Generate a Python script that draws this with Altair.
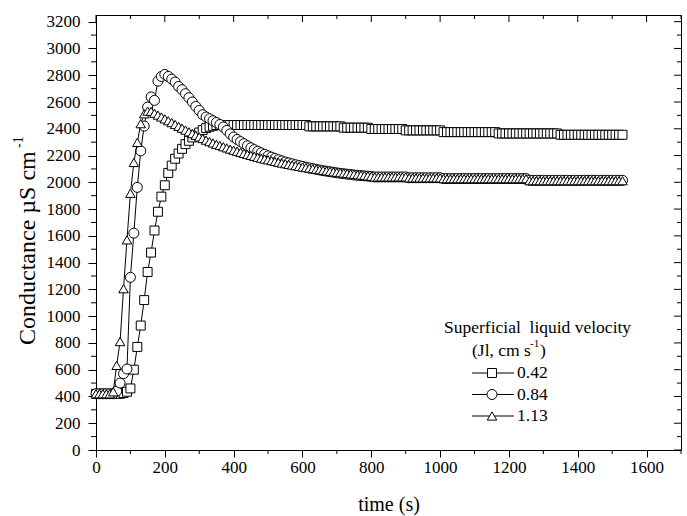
import altair as alt
import pandas as pd

# ---------------- data ----------------
time_s = [0, 10, 20, 30, 40, 50, 60, 70, 80, 90,
          100, 110, 120, 130, 140, 150, 160, 170, 180, 190,
          200, 210, 220, 230, 240, 250, 260, 270, 280, 290,
          300, 310, 320, 330, 340, 350, 360, 370, 380, 390,
          400, 410, 420, 430, 440, 450, 460, 470, 480, 490,
          500, 510, 520, 530, 540, 550, 560, 570, 580, 590,
          600, 610, 620, 630, 640, 650, 660, 670, 680, 690,
          700, 710, 720, 730, 740, 750, 760, 770, 780, 790,
          800, 810, 820, 830, 840, 850, 860, 870, 880, 890,
          900, 910, 920, 930, 940, 950, 960, 970, 980, 990,
          1000, 1010, 1020, 1030, 1040, 1050, 1060, 1070, 1080, 1090,
          1100, 1110, 1120, 1130, 1140, 1150, 1160, 1170, 1180, 1190,
          1200, 1210, 1220, 1230, 1240, 1250, 1260, 1270, 1280, 1290,
          1300, 1310, 1320, 1330, 1340, 1350, 1360, 1370, 1380, 1390,
          1400, 1410, 1420, 1430, 1440, 1450, 1460, 1470, 1480, 1490,
          1500, 1510, 1520, 1530]

cond_042 = [420, 420, 420, 420, 420, 420, 420, 420, 425, 435,
            460, 600, 770, 930, 1120, 1330, 1475, 1640, 1780, 1893,
            1978, 2070, 2125, 2176, 2215, 2250, 2285, 2310, 2335, 2355,
            2372, 2390, 2405, 2415, 2422, 2428, 2428, 2428, 2428, 2428,
            2428, 2428, 2428, 2428, 2428, 2428, 2428, 2428, 2428, 2428,
            2428, 2428, 2428, 2428, 2428, 2428, 2428, 2428, 2428, 2428,
            2428, 2428, 2418, 2418, 2418, 2418, 2418, 2418, 2418, 2418,
            2418, 2418, 2408, 2408, 2408, 2408, 2408, 2408, 2408, 2408,
            2398, 2398, 2398, 2398, 2398, 2398, 2398, 2398, 2398, 2398,
            2388, 2388, 2388, 2388, 2388, 2388, 2388, 2388, 2388, 2388,
            2388, 2375, 2375, 2375, 2375, 2375, 2375, 2375, 2375, 2375,
            2375, 2375, 2375, 2375, 2375, 2375, 2375, 2365, 2365, 2365,
            2365, 2365, 2365, 2365, 2365, 2365, 2365, 2365, 2365, 2365,
            2365, 2365, 2365, 2365, 2365, 2355, 2355, 2355, 2355, 2355,
            2355, 2355, 2355, 2355, 2355, 2355, 2355, 2355, 2355, 2355,
            2355, 2355, 2355, 2355]

cond_084 = [420, 420, 420, 420, 420, 420, 440, 500, 570, 605,
            1290, 1620, 1962, 2235, 2420, 2562, 2638, 2612, 2756, 2791,
            2806, 2791, 2771, 2749, 2716, 2692, 2662, 2632, 2600, 2567,
            2537, 2505, 2488, 2475, 2460, 2447, 2432, 2413, 2388, 2362,
            2338, 2320, 2304, 2289, 2273, 2258, 2244, 2232, 2220, 2209,
            2198, 2188, 2178, 2169, 2160, 2152, 2145, 2138, 2131, 2125,
            2119, 2113, 2107, 2102, 2097, 2092, 2087, 2083, 2079, 2075,
            2071, 2067, 2064, 2061, 2058, 2055, 2052, 2050, 2048, 2046,
            2044, 2040, 2040, 2040, 2040, 2040, 2040, 2040, 2040, 2040,
            2040, 2034, 2034, 2034, 2034, 2034, 2034, 2034, 2034, 2034,
            2034, 2028, 2028, 2028, 2028, 2028, 2028, 2028, 2028, 2028,
            2028, 2028, 2028, 2028, 2028, 2028, 2028, 2028, 2028, 2028,
            2028, 2028, 2028, 2028, 2028, 2028, 2015, 2015, 2015, 2015,
            2015, 2015, 2015, 2015, 2015, 2015, 2015, 2015, 2015, 2015,
            2015, 2015, 2015, 2015, 2015, 2015, 2015, 2015, 2015, 2015,
            2015, 2015, 2015, 2015]

cond_113 = [420, 420, 420, 420, 420, 435, 632, 810, 1205, 1570,
            1918, 2148, 2298, 2438, 2512, 2532, 2530, 2516, 2502, 2488,
            2474, 2460, 2446, 2432, 2418, 2404, 2390, 2377, 2364, 2351,
            2339, 2327, 2315, 2304, 2294, 2284, 2275, 2266, 2257, 2248,
            2240, 2232, 2224, 2216, 2208, 2201, 2194, 2187, 2180, 2174,
            2168, 2162, 2156, 2150, 2144, 2139, 2134, 2129, 2124, 2119,
            2114, 2110, 2106, 2102, 2098, 2094, 2090, 2086, 2082, 2078,
            2075, 2072, 2069, 2066, 2063, 2060, 2057, 2054, 2051, 2048,
            2045, 2040, 2040, 2040, 2040, 2040, 2040, 2040, 2040, 2040,
            2040, 2033, 2033, 2033, 2033, 2033, 2033, 2033, 2033, 2033,
            2033, 2027, 2027, 2027, 2027, 2027, 2027, 2027, 2027, 2027,
            2027, 2027, 2027, 2027, 2027, 2027, 2027, 2027, 2027, 2027,
            2027, 2027, 2027, 2027, 2027, 2027, 2012, 2012, 2012, 2012,
            2012, 2012, 2012, 2012, 2012, 2012, 2012, 2012, 2012, 2012,
            2012, 2012, 2012, 2012, 2012, 2012, 2012, 2012, 2012, 2012,
            2012, 2012, 2012, 2012]

series_labels = ["0.42", "0.84", "1.13"]
series_shapes = ["square", "circle", "triangle-up"]
x_major = [0, 200, 400, 600, 800, 1000, 1200, 1400, 1600]
x_minor = [100, 300, 500, 700, 900, 1100, 1300, 1500, 1700]
y_major = [0, 200, 400, 600, 800, 1000, 1200, 1400, 1600, 1800, 2000,
           2200, 2400, 2600, 2800, 3000, 3200]
y_minor = [100, 300, 500, 700, 900, 1100, 1300, 1500, 1700, 1900, 2100,
           2300, 2500, 2700, 2900, 3100]

# ---------------- layout ----------------
W, H = 585, 435
FONT = "Liberation Serif"
xs = alt.Scale(domain=[0, 1700], nice=False, zero=False)
ys = alt.Scale(domain=[0, 3250], nice=False, zero=False)

xaxis = alt.Axis(values=x_major, tickSize=7, tickWidth=1, tickColor="black",
                 domainColor="black", domainWidth=1, grid=False,
                 labelFont=FONT, labelFontSize=17, labelColor="black",
                 labelPadding=2, labelFlush=False, format="d",
                 title="time (s)", titleFont=FONT, titleFontSize=20,
                 titleFontWeight="normal", titleColor="black", titlePadding=19)
yaxis = alt.Axis(values=y_major, tickSize=8, tickWidth=1, tickColor="black",
                 domainColor="black", domainWidth=1, grid=False,
                 labelFont=FONT, labelFontSize=17, labelColor="black",
                 labelPadding=8, labelFlush=False, format="d", title=None)

one = alt.Data(values=[{}])


def series_layers(vals, shape, size):
    d = pd.DataFrame({"t": time_s, "v": vals})
    line = alt.Chart(d).mark_line(color="black", strokeWidth=1).encode(
        x=alt.X("t:Q", scale=xs, axis=xaxis),
        y=alt.Y("v:Q", scale=ys, axis=yaxis))
    pts = alt.Chart(d).mark_point(shape=shape, size=size, filled=True,
                                  fill="white", stroke="black",
                                  strokeWidth=1, opacity=1).encode(
        x=alt.X("t:Q", scale=xs, axis=xaxis),
        y=alt.Y("v:Q", scale=ys, axis=yaxis))
    return [line, pts]


sizes = [80, 100, 90]
layers = []
for vals, shp, sz in zip([cond_042, cond_084, cond_113], series_shapes, sizes):
    layers += series_layers(vals, shp, sz)


def xticks(vals, y1, y2):
    return alt.Chart(pd.DataFrame({"t": vals})).mark_rule(
        color="black", strokeWidth=1).encode(
        x=alt.X("t:Q", scale=xs, axis=xaxis), y=alt.value(y1), y2=alt.value(y2))


def yticks(vals, x1, x2):
    return alt.Chart(pd.DataFrame({"v": vals})).mark_rule(
        color="black", strokeWidth=1).encode(
        y=alt.Y("v:Q", scale=ys, axis=yaxis), x=alt.value(x1), x2=alt.value(x2))


layers += [
    xticks(x_minor, H, H + 4),        # bottom minor
    xticks(x_major, 0, 7),            # top major (inward)
    xticks(x_minor, 0, 4),            # top minor (inward)
    yticks(y_minor, -5, 0),           # left minor
    yticks(y_major, W - 7, W),        # right major (inward)
    yticks(y_minor, W - 4, W),        # right minor (inward)
]

# y-axis title with superscript
ytitle_x = -68
ytitle_start = 330
layers.append(alt.Chart(one).mark_text(
    text="Conductance µS cm", font=FONT, fontSize=24, angle=270,
    align="left", baseline="middle", color="black").encode(
    x=alt.value(ytitle_x), y=alt.value(ytitle_start)))
layers.append(alt.Chart(one).mark_text(
    text="-1", font=FONT, fontSize=14, angle=270,
    align="left", baseline="middle", color="black").encode(
    x=alt.value(ytitle_x - 9), y=alt.value(ytitle_start - 197)))

# legend (drawn manually: line through marker)
leg_y = [358, 379.5, 401]
LF = 17.5
layers.append(alt.Chart(one).mark_text(
    text="Superficial\u00a0 liquid velocity", font=FONT, fontSize=LF,
    align="left", baseline="middle", color="black").encode(
    x=alt.value(348), y=alt.value(313)))
layers.append(alt.Chart(one).mark_text(
    text="(Jl, cm s", font=FONT, fontSize=LF, align="left",
    baseline="middle", color="black").encode(
    x=alt.value(376), y=alt.value(336)))
layers.append(alt.Chart(one).mark_text(
    text="-1", font=FONT, fontSize=11, align="left",
    baseline="middle", color="black").encode(
    x=alt.value(434), y=alt.value(329)))
layers.append(alt.Chart(one).mark_text(
    text=")", font=FONT, fontSize=LF, align="left",
    baseline="middle", color="black").encode(
    x=alt.value(444), y=alt.value(336)))
for lab, shp, sz, yy in zip(series_labels, series_shapes, sizes, leg_y):
    layers.append(alt.Chart(one).mark_rule(color="black", strokeWidth=1).encode(
        x=alt.value(376), x2=alt.value(418), y=alt.value(yy)))
    layers.append(alt.Chart(one).mark_point(
        shape=shp, size=sz, filled=True, fill="white", stroke="black",
        strokeWidth=1, opacity=1).encode(x=alt.value(396), y=alt.value(yy)))
    layers.append(alt.Chart(one).mark_text(
        text=lab, font=FONT, fontSize=LF, align="left", baseline="middle",
        color="black").encode(x=alt.value(421), y=alt.value(yy)))

chart = alt.layer(*layers).properties(
    width=W, height=H,
    padding={"left": 96, "top": 15, "right": 6, "bottom": 66},
    autosize=alt.AutoSizeParams(type="none"),
    background="white",
).configure_view(stroke="black", strokeWidth=1)

chart.save("out.html", embed_options={"renderer": "svg", "actions": False})
